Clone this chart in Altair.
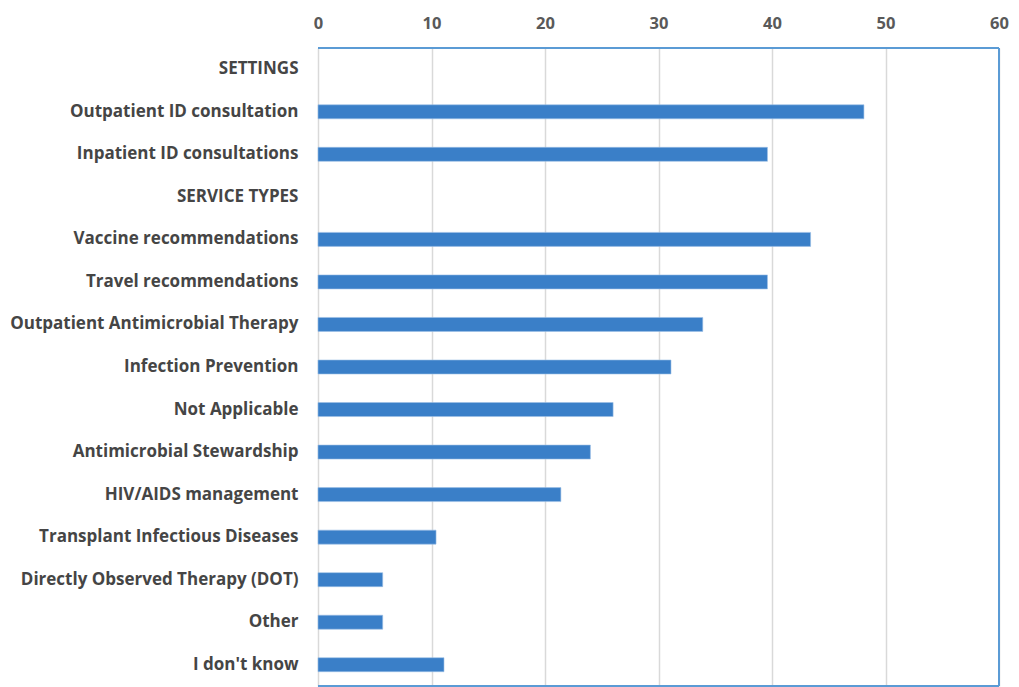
import altair as alt
import pandas as pd

categories = [
    "SETTINGS",
    "Outpatient ID consultation",
    "Inpatient ID consultations",
    "SERVICE TYPES",
    "Vaccine recommendations",
    "Travel recommendations",
    "Outpatient Antimicrobial Therapy",
    "Infection Prevention",
    "Not Applicable",
    "Antimicrobial Stewardship",
    "HIV/AIDS management",
    "Transplant Infectious Diseases",
    "Directly Observed Therapy (DOT)",
    "Other",
    "I don't know",
]
values = [None, 48.1, 39.6, None, 43.4, 39.6, 33.9, 31.1, 26.0, 24.0, 21.4, 10.4, 5.7, 5.7, 11.1]
x_ticks = [0, 10, 20, 30, 40, 50, 60]

df = pd.DataFrame({"category": categories, "value": values})

FONT = "Open Sans"
W, H = 681, 638
BORDER = "#5B9BD5"

bars = (
    alt.Chart(df)
    .mark_bar(color="#3A7FC8", size=14, stroke="#9CC0E6", strokeWidth=0.6)
    .encode(
        x=alt.X(
            "value:Q",
            scale=alt.Scale(domain=[0, 60], nice=False),
            axis=alt.Axis(
                orient="top",
                values=x_ticks,
                title=None,
                domain=False,
                ticks=False,
                labelFlush=False,
                labelPadding=17,
                labelFont=FONT,
                labelFontSize=16.5,
                labelFontWeight="bold",
                labelColor="#595959",
                gridColor="#D9D9D9",
                gridWidth=1.5,
            ),
        ),
        y=alt.Y(
            "category:N",
            sort=categories,
            scale=alt.Scale(paddingInner=0, paddingOuter=0),
            axis=alt.Axis(
                title=None,
                domain=False,
                ticks=False,
                grid=False,
                labelPadding=20,
                labelLimit=400,
                labelFont=FONT,
                labelFontSize=17,
                labelFontWeight="bold",
                labelColor="#454545",
            ),
        ),
    )
)

border_top = alt.Chart().mark_rule(color=BORDER, strokeWidth=2).encode(
    x=alt.value(0), x2=alt.value(W), y=alt.value(0)
)
border_bottom = alt.Chart().mark_rule(color=BORDER, strokeWidth=2).encode(
    x=alt.value(0), x2=alt.value(W), y=alt.value(H)
)
border_right = alt.Chart().mark_rule(color=BORDER, strokeWidth=2).encode(
    x=alt.value(W), y=alt.value(0), y2=alt.value(H)
)

chart = (
    alt.layer(bars, border_top, border_bottom, border_right)
    .properties(
        width=W,
        height=H,
        autosize=alt.AutoSizeParams(type="none"),
        padding={"left": 318, "top": 48, "right": 20, "bottom": 1},
    )
    .configure(background="white")
    .configure_view(stroke=None)
)

chart.save("out.html", embed_options={"renderer": "svg", "actions": False})
